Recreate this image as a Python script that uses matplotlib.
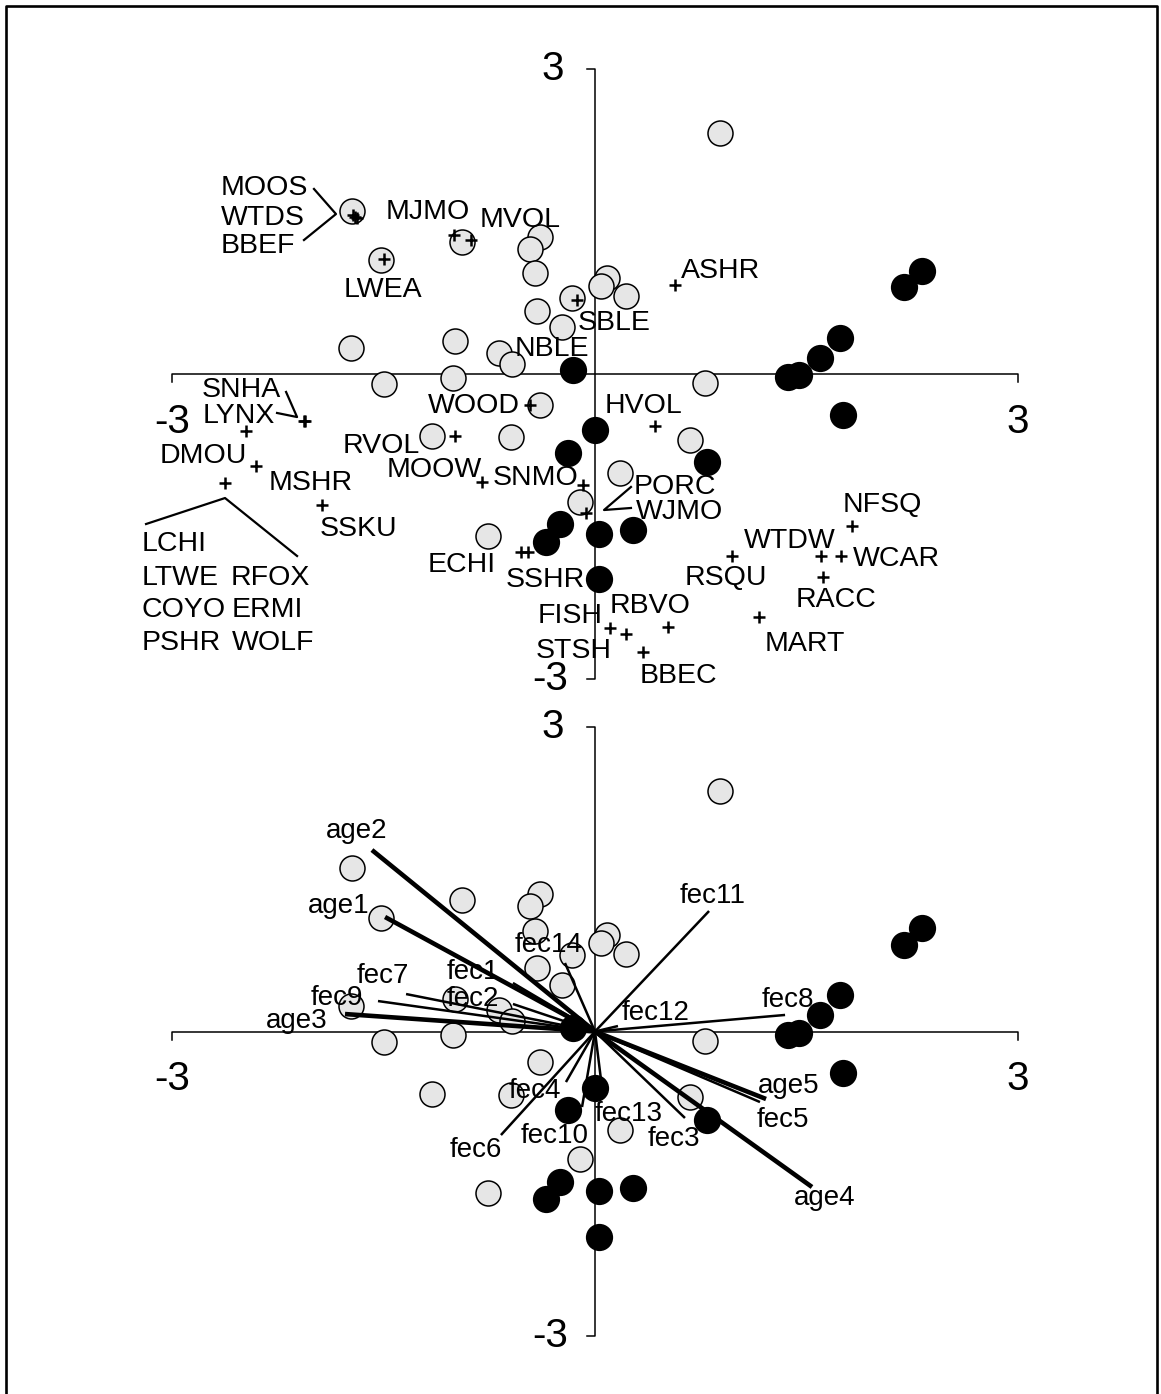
"""Two-panel ordination: species scores (top) and age/fecundity biplot (bottom)."""

import matplotlib

matplotlib.use("Agg")
import matplotlib.pyplot as plt
from matplotlib.lines import Line2D

plt.rcParams["font.family"] = ["Liberation Sans", "DejaVu Sans"]

# ---- data -----------------------------------------------------------------
# site scores, shown in both panels
grey_x = [0.887, -1.723, -0.943, -1.518, -0.390, -0.461, -0.426, 0.085, 0.043,
          0.220, -0.163, -0.411, -0.234, -1.730, -0.993, -0.681, -0.589, -1.496,
          -1.007, 0.780, -0.390, -1.156, -0.596, 0.674, 0.177, -0.106, -0.759]
grey_y = [2.374, 1.606, 1.300, 1.123, 1.350, 1.232, 0.995, 0.946, 0.867,
          0.768, 0.749, 0.621, 0.463, 0.256, 0.325, 0.207, 0.099, -0.099,
          -0.039, -0.089, -0.305, -0.611, -0.621, -0.650, -0.975, -1.261, -1.596]
black_x = [-0.156, 2.319, 2.191, 1.738, 1.596, 1.447, 1.369, 1.759, 0.000,
           -0.191, 0.794, -0.248, -0.348, 0.028, 0.270, 0.028]
black_y = [0.039, 1.015, 0.857, 0.355, 0.158, -0.010, -0.030, -0.404, -0.552,
           -0.778, -0.867, -1.478, -1.655, -1.576, -1.537, -2.020]

# species scores (top panel)
species_x = [-1.716, -1.702, -1.688, -1.000, -0.879, -1.496, 0.567, -0.128,
             -0.461, -2.064, -2.060, -2.475, -2.404, -2.624, -1.936, -0.993,
             0.426, -0.801, -0.085, -0.064, -0.525, -0.475, 0.106, 0.220,
             0.518, 0.340, 0.972, 1.603, 1.745, 1.823, 1.617, 1.163]
species_y = [1.567, 1.547, 1.537, 1.369, 1.320, 1.133, 0.877, 0.729,
             -0.305, -0.463, -0.466, -0.562, -0.906, -1.074, -1.291, -0.611,
             -0.512, -1.064, -1.094, -1.369, -1.754, -1.754, -2.502, -2.562,
             -2.493, -2.739, -1.793, -1.793, -1.793, -1.498, -2.000, -2.394]

species_labels = ["MOOS", "WTDS", "BBEF", "MJMO", "MVOL", "LWEA", "ASHR", "SBLE",
                  "NBLE", "SNHA", "LYNX", "DMOU", "MSHR", "SSKU", "LCHI", "LTWE",
                  "COYO", "PSHR", "RFOX", "ERMI", "WOLF", "WOOD", "RVOL", "MOOW",
                  "SNMO", "HVOL", "PORC", "WJMO", "ECHI", "SSHR", "FISH", "STSH",
                  "RBVO", "BBEC", "NFSQ", "WTDW", "WCAR", "RSQU", "RACC", "MART"]

# environmental vectors (bottom panel)
vec_names = ["age1", "age2", "age3", "age4", "age5",
             "fec1", "fec2", "fec3", "fec4", "fec5", "fec6", "fec7",
             "fec8", "fec9", "fec10", "fec11", "fec12", "fec13", "fec14"]
vec_x = [-1.489, -1.582, -1.773, 1.539, 1.213,
         -0.582, -0.582, 0.638, -0.206, 1.170, -0.667, -1.340,
         1.348, -1.539, -0.092, 0.809, 0.163, 0.050, -0.213]
vec_y = [1.128, 1.788, 0.172, -1.532, -0.665,
         0.478, 0.271, -0.852, -0.498, -0.695, -1.020, 0.369,
         0.163, 0.300, -0.744, 1.187, 0.054, -0.557, 0.675]

# ---- layout ---------------------------------------------------------------
W, H, DPI = 1161, 1394, 100
X0, SX, SY = 595, 141.0, 101.5      # pixel origin / pixels per unit
TOP_Y0, BOT_Y0 = 374, 1031.5

INK = "black"
GREY = "#e6e6e6"
LAB = 20.5
NUM = 29

# label anchors (left, baseline) in data units
species_lab_xy = [(-2.652, 1.764), (-2.652, 1.468), (-2.652, 1.192), (-1.482, 1.527),
                  (-0.816, 1.448), (-1.780, 0.759), (0.610, 0.946), (-0.121, 0.433),
                  (-0.567, 0.177), (-2.787, -0.227), (-2.780, -0.483), (-3.085, -0.877),
                  (-2.312, -1.143), (-1.950, -1.596), (-3.213, -1.744), (-3.213, -2.079),
                  (-3.213, -2.394), (-3.213, -2.719), (-2.582, -2.079), (-2.574, -2.394),
                  (-2.574, -2.719), (-1.184, -0.384), (-1.787, -0.778), (-1.475, -1.015),
                  (-0.723, -1.094), (0.071, -0.384), (0.277, -1.182), (0.291, -1.429),
                  (-1.184, -1.951), (-0.631, -2.099), (-0.404, -2.453), (-0.418, -2.798),
                  (0.106, -2.355), (0.319, -3.044), (1.759, -1.360), (1.057, -1.714),
                  (1.830, -1.892), (0.638, -2.079), (1.426, -2.296), (1.206, -2.729)]

vec_lab_xy = [(-2.035, 1.167), (-1.908, 1.906), (-2.333, 0.034), (1.411, -1.709),
              (1.156, -0.606), (-1.050, 0.517), (-1.050, 0.251), (0.376, -1.128),
              (-0.610, -0.655), (1.149, -0.941), (-1.028, -1.236), (-1.688, 0.478),
              (1.184, 0.241), (-2.014, 0.261), (-0.525, -1.099), (0.603, 1.266),
              (0.191, 0.113), (0.000, -0.882), (-0.567, 0.783)]

# leader lines for grouped species labels
leaders = [
    ([-1.993, -1.837, -2.064], [1.823, 1.576, 1.320]),
    ([-2.191, -2.113, -2.255], [-0.177, -0.424, -0.384]),
    ([-3.184, -2.624, -2.113], [-1.478, -1.222, -1.793]),
    ([0.255, 0.064, 0.255], [-1.113, -1.340, -1.320]),
]


def panel(fig, y0, top_px, bot_px):
    ax = fig.add_axes([0, 1 - bot_px / H, 1, (bot_px - top_px) / H])
    ax.set_xlim(-X0 / SX, (W - X0) / SX)
    ax.set_ylim((y0 - bot_px) / SY, (y0 - top_px) / SY)
    ax.axis("off")

    tx, ty = 8 / SX, 8 / SY
    ax.plot([-3, -3, 3, 3], [-ty, 0, 0, -ty], color=INK, lw=1.1, zorder=1)
    ax.plot([-tx, 0, 0, -tx], [-3, -3, 3, 3], color=INK, lw=1.1, zorder=1)
    ax.text(-3, -0.47, "-3", ha="center", va="center", fontsize=NUM)
    ax.text(3, -0.47, "3", ha="center", va="center", fontsize=NUM)
    ax.text(-0.22, 3, "3", ha="right", va="center", fontsize=NUM)
    ax.text(-0.19, -3, "-3", ha="right", va="center", fontsize=NUM)

    ax.plot(grey_x, grey_y, "o", ms=18, mfc=GREY, mec=INK, mew=1.1,
            ls="none", zorder=2)
    ax.plot(black_x, black_y, "o", ms=18.5, mfc=INK, mec=INK, mew=1.1,
            ls="none", zorder=2)
    return ax


fig = plt.figure(figsize=(W / DPI, H / DPI), dpi=DPI)

# top panel: species
ax1 = panel(fig, TOP_Y0, 0, 700)
ax1.plot(species_x, species_y, "+", ms=8, mew=1.8, color=INK, ls="none", zorder=3)
for lx, ly in leaders:
    ax1.plot(lx, ly, color=INK, lw=1.6, zorder=3)
for name, (tx, ty) in zip(species_labels, species_lab_xy):
    ax1.text(tx, ty, name, ha="left", va="baseline", fontsize=LAB, zorder=4)

# bottom panel: vectors
ax2 = panel(fig, BOT_Y0, 700, H)
for name, x, y in zip(vec_names, vec_x, vec_y):
    lw = 3.3 if name.startswith("age") else 1.8
    ax2.plot([0, x], [0, y], color=INK, lw=lw, solid_capstyle="butt", zorder=3)
for name, (tx, ty) in zip(vec_names, vec_lab_xy):
    ax2.text(tx, ty, name, ha="left", va="baseline", fontsize=LAB - 0.5, zorder=4)

# frame round the figure (open at the bottom)
fig.add_artist(Line2D([6 / W, 6 / W, 1157 / W, 1157 / W],
                      [-0.01, 1 - 6 / H, 1 - 6 / H, -0.01],
                      transform=fig.transFigure, color=INK, lw=1.9))

fig.savefig("out.png", dpi=DPI, facecolor="white")
